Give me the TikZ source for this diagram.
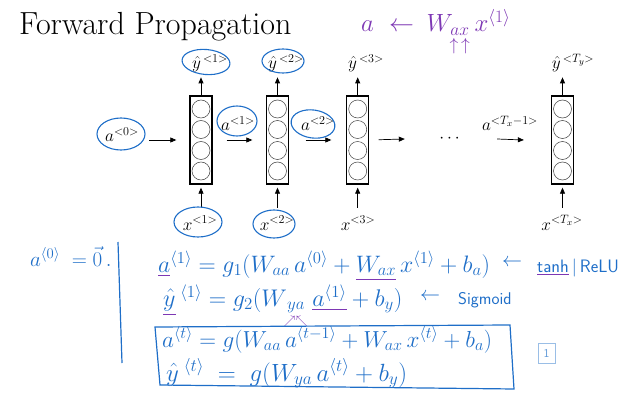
\RequirePackage{fix-cm}
\documentclass[tikz,border=0pt]{standalone}
\usepackage{amsmath}
\usetikzlibrary{arrows.meta,shapes.geometric}
\definecolor{hb}{RGB}{30,110,200}
\definecolor{pur}{RGB}{125,55,180}
\newcommand\pu[1]{{\color{pur}\underline{{\color{hb}#1}}}}
\newcommand\ang[1]{\langle #1\rangle}
\begin{document}
\begin{tikzpicture}[x=1pt,y=-1pt,
  cell/.style={draw,line width=1.3pt,minimum width=22pt,minimum height=88pt,inner sep=0pt},
  neuron/.style={draw=black!75,circle,minimum size=18pt,inner sep=0pt,line width=0.5pt},
  lab/.style={inner sep=0pt,font=\fontsize{17.3}{19}\selectfont,anchor=base},
  arr/.style={-{Triangle[length=6pt,width=5pt]},line width=0.7pt},
  ring/.style={draw=hb,line width=1.1pt},
  hand/.style={text=hb,font=\fontsize{23.8}{28}\selectfont,inner sep=0pt,anchor=base west},
  side/.style={text=hb,font=\fontsize{17}{20}\sffamily,inner sep=0pt,anchor=base west},
]
\useasboundingbox (0,0) rectangle (625,404);

% title and purple note
\node[font=\fontsize{32}{36}\selectfont,inner sep=0pt,anchor=base west] (title) at (19,35) {Forward Propagation};
\node[text=pur,font=\fontsize{24.9}{28}\selectfont,inner sep=0pt,anchor=base west] (note) at (361,32)
  {$a \mspace{6mu}\leftarrow\mspace{4mu} W_{\underset{\scriptstyle\uparrow\,\uparrow}{ax}}\, x^{\ang{1}}$};

% cells
\foreach \n/\cx in {1/201,2/277.5,3/357.7,4/562.5}{
  \node[cell] (c\n) at (\cx,140) {};
  \foreach \k/\dy in {1/-31,2/-10.5,3/10.5,4/31}
    \node[neuron] (c\n n\k) at (\cx,140+\dy) {};
  \draw[arr] (c\n.north) -- ([yshift=18pt]c\n.north);
  \draw[arr,shorten >=3pt] ([yshift=-23pt]c\n.south) -- (c\n.south);
}

% output labels
\node[lab] (y1) at (210,69) {$\hat{y}^{\,<1>}$};
\node[lab] (y2) at (286,69) {$\hat{y}^{\,<2>}$};
\node[lab] (y3) at (366,69) {$\hat{y}^{\,<3>}$};
\node[lab] (y4) at (573,69) {$\hat{y}^{\,<T_y>}$};
% input labels
\node[lab] (x1) at (200,230) {$x^{<1>}$};
\node[lab] (x2) at (277,230) {$x^{<2>}$};
\node[lab] (x3) at (358,230) {$x^{<3>}$};
\node[lab] (x4) at (562,230) {$x^{<T_x>}$};
% activation labels
\node[lab] (a0) at (122,142) {$a^{<0>}$};
\node[lab] (a1) at (238,131) {$a^{<1>}$};
\node[lab] (a2) at (318,131) {$a^{<2>}$};
\node[lab] (aT) at (510,131) {$a^{<T_x-1>}$};
\node[inner sep=0pt,minimum width=92pt,font=\fontsize{17.3}{19}\selectfont] (dots) at (451,139) {$\cdots$};

% horizontal arrows
\draw[arr] ([xshift=-40pt]c1.west) -- ([xshift=-13pt]c1.west);
\draw[arr] ([xshift=14pt]c1.east) -- ([xshift=-13.5pt]c2.west);
\draw[arr] ([xshift=16.5pt]c2.east) -- ([xshift=-14.7pt]c3.west);
\draw[arr,shorten <=9.3pt] (c3.east) -- (dots.west);
\draw[arr] (dots.east) -- ([xshift=-27pt]c4.west);

% hand-drawn rings
\draw[ring] (121,134) ellipse[x radius=24pt,y radius=16pt];
\draw[ring,rotate around={-5:(206,62)}] (206,62) ellipse[x radius=24pt,y radius=12.5pt];
\draw[ring] (283,61) ellipse[x radius=21pt,y radius=12pt];
\draw[ring] (237,121) ellipse[x radius=20pt,y radius=15pt];
\draw[ring,rotate around={-8:(313,124)}] (313,124) ellipse[x radius=22pt,y radius=14pt];
\draw[ring] (198,222) ellipse[x radius=24pt,y radius=15pt];
\draw[ring] (274,224) ellipse[x radius=21pt,y radius=14pt];

% lower handwritten part
\node[hand,font=\fontsize{21}{24}\selectfont] (init) at (30,266) {$a^{\ang{0}}\; = \vec{0}\,.$};
\draw[hb,line width=1.2pt] (118,242) -- (122,363);

\node[hand] (e1) at (158,272) {$\pu{a}^{\ang{1}} = g_1(W_{aa}\,a^{\ang{0}} + \pu{W_{ax}}\,x^{\ang{1}} + b_a)$};
\node[hand,font=\fontsize{20}{24}\selectfont] (r1) at (502,266) {$\leftarrow$};
\node[side,font=\fontsize{18}{22}\sffamily] (t1) at (537,272) {\pu{tanh}\,|\,ReLU};

\node[hand,font=\fontsize{24.1}{28}\selectfont] (e2) at (163,306) {$\pu{\hat{y}}^{\;\ang{1}} = g_2(W_{\underset{\color{pur}\nearrow\nwarrow}{ya}}\,\pu{a^{\ang{1}}} + b_y)$};
\node[hand,font=\fontsize{20}{24}\selectfont] (r2) at (420,300) {$\leftarrow$};
\node[side] (t2) at (458,304) {Sigmoid};

\draw[hb,line width=1.2pt] (155,327) -- (510,325) -- (514,389) -- (160,385) -- cycle;
\node[hand,font=\fontsize{23.2}{28}\selectfont] (e3) at (162,347) {$a^{\ang{t}} = g(W_{aa}\,a^{\ang{t-1}} + W_{ax}\,x^{\ang{t}} + b_a)$};
\node[hand,font=\fontsize{24.9}{28}\selectfont] (e4) at (166,381) {$\hat{y}^{\;\ang{t}} \;=\; g(W_{ya}\,a^{\ang{t}} + b_y)$};

\node[draw=hb!45,text=hb!70,font=\fontsize{12}{14}\sffamily,minimum width=17pt,minimum height=20pt,inner sep=0pt] (pg) at (546.5,353) {1};
\end{tikzpicture}
\end{document}
